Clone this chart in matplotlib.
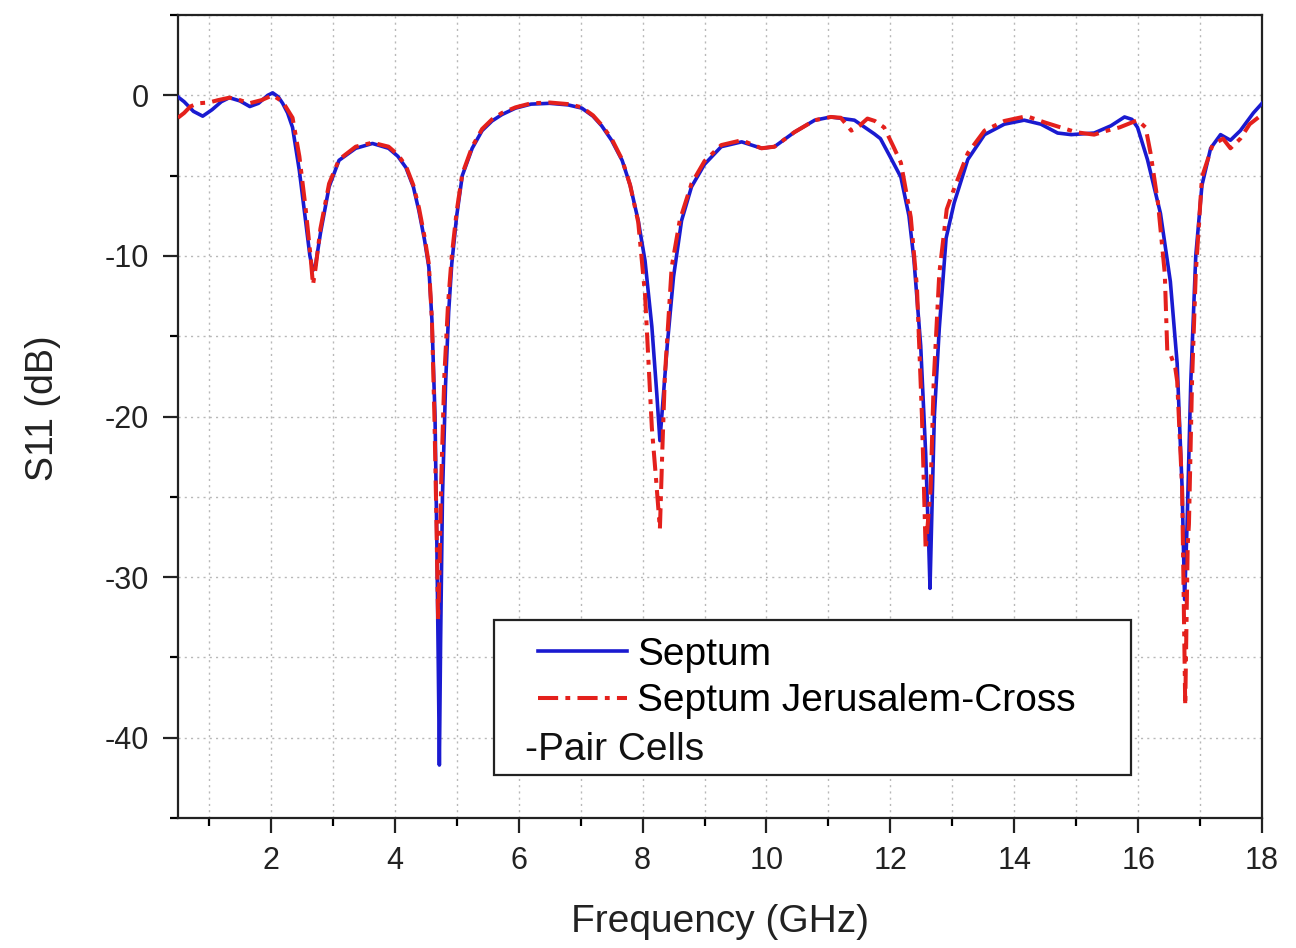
import matplotlib
matplotlib.use("Agg")
import matplotlib.pyplot as plt
from matplotlib.patches import Rectangle
from matplotlib.ticker import MultipleLocator

plt.rcParams['font.family'] = ['Liberation Sans', 'DejaVu Sans']
plt.rcParams['axes.unicode_minus'] = False

# Septum (blue, solid)
f_septum = [0.5, 0.6, 0.75, 0.9, 1.05, 1.2, 1.33, 1.5, 1.66, 1.8, 1.95, 2.03, 2.12, 2.19,
            2.27, 2.35, 2.46, 2.56, 2.63, 2.68, 2.72, 2.8, 2.94, 3.1, 3.37, 3.64, 3.9, 4.05,
            4.18, 4.3, 4.39, 4.48, 4.55, 4.6, 4.65, 4.68, 4.71, 4.72, 4.74, 4.77, 4.82, 4.87,
            4.92, 5.0, 5.09, 5.25, 5.41, 5.57, 5.73, 5.95, 6.2, 6.5, 6.8, 7.02, 7.2, 7.34,
            7.5, 7.67, 7.8, 7.93, 8.04, 8.15, 8.23, 8.28, 8.33, 8.4, 8.5, 8.63, 8.79, 9.0,
            9.27, 9.6, 9.92, 10.13, 10.45, 10.78, 11.04, 11.42, 11.74, 11.84, 12.0, 12.17,
            12.3, 12.38, 12.49, 12.57, 12.62, 12.64, 12.67, 12.71, 12.79, 12.9, 13.03, 13.25,
            13.52, 13.84, 14.16, 14.43, 14.7, 14.92, 15.29, 15.56, 15.78, 15.9, 15.99, 16.15,
            16.36, 16.52, 16.63, 16.71, 16.75, 16.79, 16.85, 16.93, 17.03, 17.17, 17.33,
            17.49, 17.65, 17.86, 18.0]
s_septum = [-0.1, -0.4, -1.0, -1.3, -0.9, -0.4, -0.15, -0.35, -0.7, -0.5, 0.0, 0.15, -0.1, -0.5,
            -1.1, -2.0, -4.7, -7.8, -10.0, -10.9, -10.6, -8.6, -5.7, -4.05, -3.3, -3.0, -3.3, -3.8,
            -4.5, -5.7, -7.2, -9.0, -10.7, -14.0, -20.0, -28.0, -38.0, -41.7, -34.0, -25.0, -18.0, -13.5,
            -10.5, -7.5, -5.0, -3.3, -2.2, -1.6, -1.2, -0.8, -0.55, -0.5, -0.6, -0.8, -1.3, -1.9,
            -2.8, -4.05, -5.6, -7.8, -10.3, -14.4, -18.6, -21.5, -19.0, -15.5, -11.3, -7.8, -5.7, -4.3,
            -3.2, -2.9, -3.3, -3.2, -2.3, -1.55, -1.35, -1.55, -2.4, -2.7, -3.85, -5.1,
            -7.5, -10.2, -15.6, -22.3, -28.0, -30.7, -26.0, -20.0, -14.5, -8.9, -6.7, -4.0,
            -2.45, -1.8, -1.55, -1.8, -2.35, -2.45, -2.35, -1.9, -1.35, -1.5, -2.0, -4.0,
            -7.35, -11.6, -16.7, -24.5, -31.4, -26.7, -17.8, -10.0, -5.6, -3.3, -2.45,
            -2.8, -2.2, -1.1, -0.5]

# Septum Jerusalem-Cross-Pair Cells (red, dash-dot)
f_jc = [0.5, 0.6, 0.7, 0.82, 1.0, 1.15, 1.33, 1.5, 1.65, 1.85, 2.03, 2.19, 2.35, 2.46,
        2.56, 2.64, 2.68, 2.72, 2.8, 2.94, 3.1, 3.37, 3.64, 3.9, 4.05, 4.18, 4.3, 4.39,
        4.48, 4.55, 4.6, 4.64, 4.67, 4.7, 4.72, 4.75, 4.8, 4.86, 4.92, 5.0, 5.09, 5.25,
        5.41, 5.57, 5.73, 5.95, 6.2, 6.5, 6.8, 7.02, 7.2, 7.34, 7.5, 7.67, 7.8, 7.93,
        8.04, 8.15, 8.22, 8.28, 8.32, 8.36, 8.47, 8.6, 8.79, 9.0, 9.27, 9.6, 9.92, 10.13,
        10.45, 10.78, 11.04, 11.2, 11.37, 11.5, 11.63, 11.75, 11.9, 12.05, 12.17, 12.33,
        12.43, 12.51, 12.57, 12.65, 12.7, 12.79, 12.91, 13.03, 13.25, 13.52, 13.84, 14.2,
        14.5, 14.75, 15.0, 15.29, 15.5, 15.7, 15.99, 16.12, 16.2, 16.32, 16.43, 16.47,
        16.51, 16.6, 16.63, 16.71, 16.76, 16.8, 16.82, 16.87, 16.93, 17.03, 17.2, 17.37,
        17.49, 17.65, 17.8, 18.0]
s_jc = [-1.4, -1.1, -0.7, -0.5, -0.45, -0.3, -0.15, -0.3, -0.5, -0.3, 0.0, -0.4, -1.4, -3.8,
        -7.0, -10.0, -11.8, -10.8, -8.3, -5.5, -4.0, -3.2, -2.95, -3.2, -3.7, -4.4, -5.6, -7.0,
        -8.8, -10.5, -14.0, -20.0, -26.0, -32.7, -30.0, -24.0, -17.5, -13.0, -10.0, -7.2, -4.9, -3.2,
        -2.1, -1.5, -1.1, -0.75, -0.5, -0.45, -0.55, -0.75, -1.25, -1.85, -2.7, -4.0, -5.6, -7.9,
        -12.4, -20.7, -24.0, -27.0, -22.0, -17.5, -10.7, -7.8, -5.5, -4.1, -3.1, -2.8, -3.3, -3.2,
        -2.3, -1.55, -1.35, -1.4, -2.2, -1.9, -1.45, -1.6, -2.0, -3.2, -4.2, -7.6,
        -12.0, -20.0, -28.3, -24.5, -17.8, -11.1, -7.1, -5.8, -3.6, -2.2, -1.6, -1.3,
        -1.7, -2.0, -2.3, -2.45, -2.2, -2.0, -1.55, -2.0, -3.6, -6.7, -11.1, -15.9,
        -16.0, -17.0, -17.8, -24.5, -38.0, -28.0, -26.7, -17.8, -11.1, -5.1, -3.1, -2.7,
        -3.3, -2.7, -1.8, -1.2]

x_ticks = [2, 4, 6, 8, 10, 12, 14, 16, 18]
y_ticks = [0, -10, -20, -30, -40]

fig = plt.figure(figsize=(12.96, 9.48), dpi=100)
ax = fig.add_axes([0.1373, 0.1371, 0.8365, 0.8471])

ax.plot(f_septum, s_septum, color='#1a1ad0', lw=2.6, label='Septum', zorder=3)
ax.plot(f_jc, s_jc, color='#e4201c', lw=2.9, dashes=[5, 1.8, 1.2, 1.8],
        label='Septum Jerusalem-Cross', zorder=4)

ax.set_xlim(0.5, 18)
ax.set_ylim(-45, 5)
ax.set_xticks(x_ticks)
ax.set_yticks(y_ticks)
ax.xaxis.set_minor_locator(MultipleLocator(1))
ax.yaxis.set_minor_locator(MultipleLocator(5))

ax.grid(which='both', color='#b8b8b8', linestyle=(0, (1.5, 3)), linewidth=1.0, zorder=0)
ax.set_axisbelow(True)

for sp in ax.spines.values():
    sp.set_linewidth(1.6)
    sp.set_color('#222222')

ax.tick_params(which='major', direction='out', length=11, width=1.6, labelsize=22, pad=9,
               colors='#222222')
ax.tick_params(axis='y', which='major', pad=10)
ax.tick_params(which='minor', direction='out', length=6, width=1.6)
ax.tick_params(top=False, right=False, which='both')

ax.set_xlabel('Frequency (GHz)', fontsize=28, labelpad=20, color='#222222')
ax.set_ylabel('S11 (dB)', fontsize=27, color='#222222')
ax.yaxis.set_label_coords(-0.108, 0.51)

# legend box
box = Rectangle((0.2915, 0.0535), 0.5875, 0.1931, transform=ax.transAxes,
                facecolor='white', edgecolor='#222222', linewidth=1.6, zorder=5)
ax.add_patch(box)

leg = ax.legend(handles=[ax.lines[0], ax.lines[1]],
                labels=['Septum', 'Septum Jerusalem-Cross'],
                loc='upper left', bbox_to_anchor=(0.332, 0.226),
                fontsize=28, handlelength=2.3, handletextpad=0.25,
                labelspacing=0.28, borderpad=0.0, borderaxespad=0.0,
                frameon=False)
leg.set_zorder(6)
ax.text(0.320, 0.085, '-Pair Cells', transform=ax.transAxes, fontsize=28,
        va='center', ha='left', color='#111111', zorder=7)

fig.savefig('out.png', dpi=100)
